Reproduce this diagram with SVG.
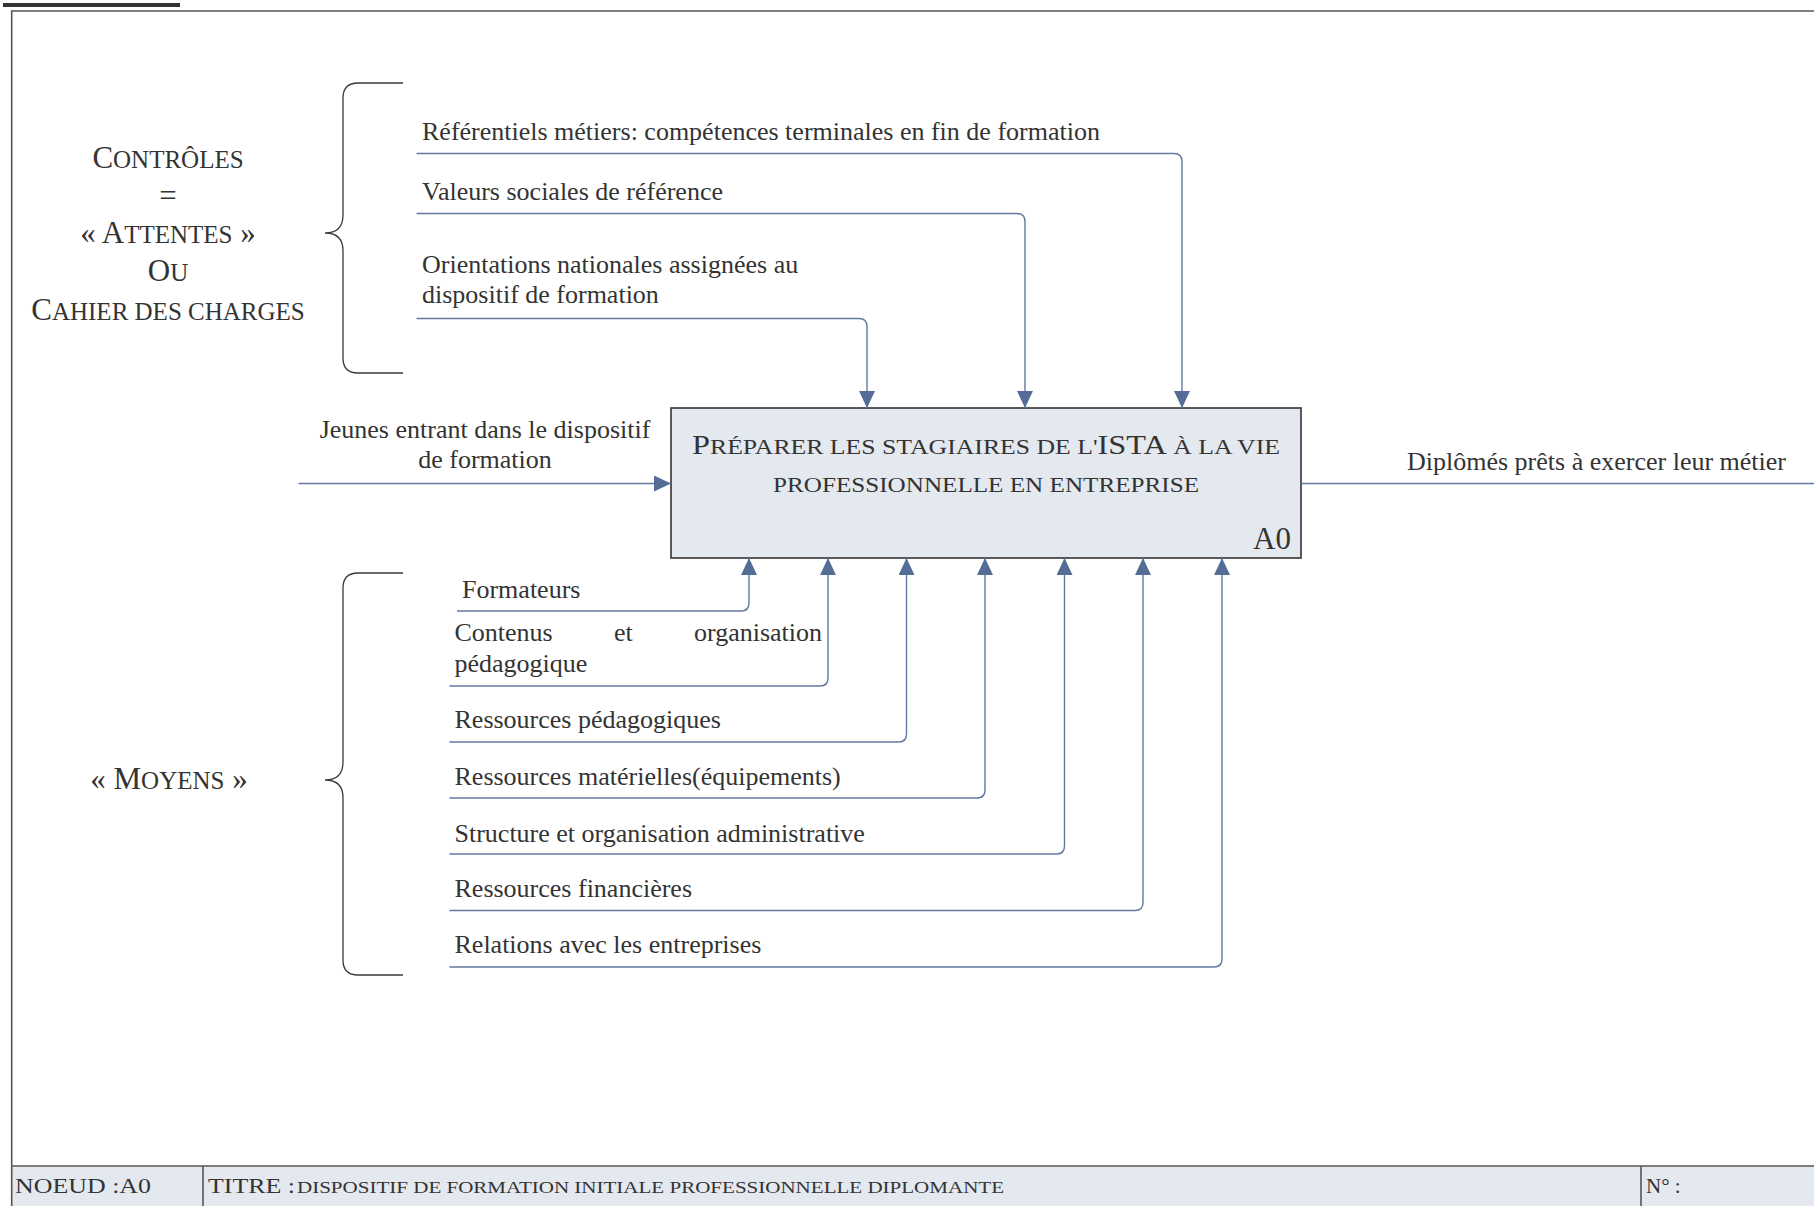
<svg xmlns="http://www.w3.org/2000/svg" width="1814" height="1206" viewBox="0 0 1814 1206">
<defs>
<style>
text{font-family:"Liberation Serif","Times New Roman",serif;fill:#333;}
.t26{font-size:26px;}
.big{font-size:31px;}
.sm{font-size:25px;}
.conn{fill:none;stroke:#6279a0;stroke-width:1.4;}
.brace{fill:none;stroke:#3a3a3a;stroke-width:1.3;}
.frame{fill:none;stroke:#555;stroke-width:1.6;}
</style>
<marker id="arr" markerUnits="userSpaceOnUse" markerWidth="18" markerHeight="17" refX="17" refY="8" orient="auto">
<path d="M0,0 L17,8 L0,16 Z" fill="#536d96"/>
</marker>
</defs>
<rect width="1814" height="1206" fill="#fff"/>
<rect x="3" y="3" width="177" height="4" fill="#333"/>
<g id="frame">
<rect x="11.7" y="1166" width="1810" height="42" fill="#e4e8ef"/>
<path class="frame" d="M1814,11 H11.7 V1206 M11.7,1166 H1814 M203,1166 V1206 M1641,1166 V1206"/>
<text x="15" y="1193" style="font-size:21px" textLength="136" lengthAdjust="spacingAndGlyphs">NOEUD :A0</text>
<text x="208" y="1193" style="font-size:21px" textLength="87" lengthAdjust="spacingAndGlyphs">TITRE :</text>
<text x="297" y="1193" style="font-size:16px" textLength="707" lengthAdjust="spacingAndGlyphs">DISPOSITIF DE FORMATION INITIALE PROFESSIONNELLE DIPLOMANTE</text>
<text x="1646" y="1193" style="font-size:21px">N° :</text>
</g>
<g id="controles-label">
<text x="168" y="168" text-anchor="middle"><tspan class="big">C</tspan><tspan class="sm">ONTRÔLES</tspan></text>
<text x="168" y="206" text-anchor="middle" class="big">=</text>
<text x="168" y="243" text-anchor="middle"><tspan class="big">« A</tspan><tspan class="sm">TTENTES</tspan><tspan class="big"> »</tspan></text>
<text x="168" y="281" text-anchor="middle"><tspan class="big">O</tspan><tspan class="sm">U</tspan></text>
<text x="168" y="320" text-anchor="middle"><tspan class="big">C</tspan><tspan class="sm">AHIER DES CHARGES</tspan></text>
</g>
<g id="moyens-label">
<text x="169" y="789" text-anchor="middle"><tspan class="big">« M</tspan><tspan class="sm">OYENS</tspan><tspan class="big"> »</tspan></text>
</g>
<g id="braces">
<path class="brace" d="M403,83 H358 Q343,83 343,98 V215 Q343,233 325,233 Q343,233 343,251 V358 Q343,373 358,373 H403"/>
<path class="brace" d="M403,573 H358 Q343,573 343,588 V762 Q343,780 325,780 Q343,780 343,798 V960 Q343,975 358,975 H403"/>
</g>
<g id="A0">
<rect x="671" y="408" width="630" height="150" fill="#e4e8ef" stroke="#333" stroke-width="1.6"/>
<text x="986" y="454" text-anchor="middle" textLength="588" lengthAdjust="spacingAndGlyphs"><tspan style="font-size:27px">P</tspan><tspan style="font-size:21.5px">RÉPARER LES STAGIAIRES DE L'</tspan><tspan style="font-size:27px">ISTA</tspan><tspan style="font-size:21.5px"> À LA VIE</tspan></text>
<text x="986" y="492" text-anchor="middle" style="font-size:21.5px" textLength="426" lengthAdjust="spacingAndGlyphs">PROFESSIONNELLE EN ENTREPRISE</text>
<text x="1291" y="549" text-anchor="end" class="big">A0</text>
</g>
<g id="connectors">
<path class="conn" marker-end="url(#arr)" d="M416.5,153.5 H1174 Q1182,153.5 1182,161.5 V408"/>
<path class="conn" marker-end="url(#arr)" d="M416.5,213.5 H1017 Q1025,213.5 1025,221.5 V408"/>
<path class="conn" marker-end="url(#arr)" d="M416.5,318.5 H859 Q867,318.5 867,326.5 V408"/>
<path class="conn" marker-end="url(#arr)" d="M298.5,483.5 H671"/>
<path class="conn" d="M1301,483.5 H1814"/>
<path class="conn" marker-end="url(#arr)" d="M457,611 H741 Q749,611 749,603 V558"/>
<path class="conn" marker-end="url(#arr)" d="M449.5,686 H820 Q828,686 828,678 V558"/>
<path class="conn" marker-end="url(#arr)" d="M449.5,742 H898.5 Q906.5,742 906.5,734 V558"/>
<path class="conn" marker-end="url(#arr)" d="M449.5,798 H977 Q985,798 985,790 V558"/>
<path class="conn" marker-end="url(#arr)" d="M449.5,854 H1056.5 Q1064.5,854 1064.5,846 V558"/>
<path class="conn" marker-end="url(#arr)" d="M449.5,910.5 H1135 Q1143,910.5 1143,902.5 V558"/>
<path class="conn" marker-end="url(#arr)" d="M449.5,967 H1214 Q1222,967 1222,959 V558"/>
</g>
<g id="labels">
<text class="t26" x="422" y="140">Référentiels métiers: compétences terminales en fin de formation</text>
<text class="t26" x="422" y="200">Valeurs sociales de référence</text>
<text class="t26" x="422" y="273">Orientations nationales assignées au</text>
<text class="t26" x="422" y="303">dispositif de formation</text>
<text class="t26" x="485" y="438" text-anchor="middle">Jeunes entrant dans le dispositif</text>
<text class="t26" x="485" y="468" text-anchor="middle">de formation</text>
<text class="t26" x="1407" y="470">Diplômés prêts à exercer leur métier</text>
<text class="t26" x="462" y="598">Formateurs</text>
<text class="t26" x="454.5" y="641">Contenus</text>
<text class="t26" x="614" y="641">et</text>
<text class="t26" x="822" y="641" text-anchor="end">organisation</text>
<text class="t26" x="454.5" y="672">pédagogique</text>
<text class="t26" x="454.5" y="728">Ressources pédagogiques</text>
<text class="t26" x="454.5" y="785">Ressources matérielles(équipements)</text>
<text class="t26" x="454.5" y="842">Structure et organisation administrative</text>
<text class="t26" x="454.5" y="897">Ressources financières</text>
<text class="t26" x="454.5" y="953">Relations avec les entreprises</text>
</g>
</svg>
